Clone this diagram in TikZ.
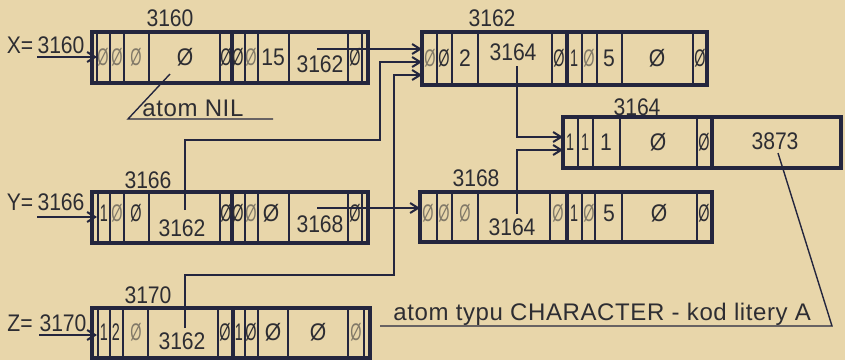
\documentclass[tikz,border=0pt]{standalone}
\usepackage{fontspec}
\setmainfont{Liberation Sans}
\newfontfamily\digitfont[FakeStretch=0.88]{Liberation Sans}
\newfontfamily\flagfont[FakeStretch=0.6]{Liberation Sans}
\newfontfamily\notefont[LetterSpace=2.5]{Liberation Sans}
\usetikzlibrary{arrows.meta}
\definecolor{paper}{RGB}{232,214,170}
\definecolor{ink}{RGB}{36,38,62}
\definecolor{pencil}{RGB}{45,45,50}
\begin{document}
\begin{tikzpicture}[x=0.5pt, y=-0.5pt,
  frame/.style={draw=ink, line width=1.6pt},
  cell/.style={draw=ink, line width=0.55pt},
  link/.style={draw=ink, line width=1pt, -{Straight Barb[length=4pt,width=5pt]}},
  lead/.style={draw=ink, line width=0.7pt},
  val/.style={text=pencil, font=\digitfont\fontsize{12}{14}\selectfont, inner sep=0pt},
  flag/.style={text=pencil, font=\flagfont\fontsize{12}{14}\selectfont, inner sep=0pt},
  faint/.style={text=pencil!55!paper}, dark/.style={},
  note/.style={text=pencil, font=\notefont\fontsize{12}{14}\selectfont, inner sep=0pt}]
  \fill[paper] (0,0) rectangle (845,360);
  % record 3160
  \draw[frame] (92,32) rectangle (368,83);
  \foreach \x in {97,110,124,149,220,245,258,289,348,362} \draw[cell] (\x,32) -- (\x,83);
  \draw[frame] (232,32) -- (232,83);
  \foreach \x/\t/\s [count=\i] in {103/Ø/faint,117/Ø/faint,136/Ø/faint,226/Ø/dark,238/Ø/dark,251/Ø/faint,355/Ø/dark}
    \node[flag,\s] (a\i) at (\x,57) {\t};
  \node[val] (anil) at (185,57) {Ø};
  \node[val] (a15) at (273,57) {15};
  \node[val] (a3162) at (320,64) {3162};
  \node[val] (l3160) at (170,18) {3160};
  % record 3162
  \draw[frame] (422,32) rectangle (707,85);
  \foreach \x in {437,452,478,552,582,597,622,693} \draw[cell] (\x,32) -- (\x,85);
  \draw[frame] (567,32) -- (567,85);
  \foreach \x/\t/\s [count=\i] in {430/Ø/faint,444/Ø/dark,559/Ø/dark,574/1/dark,589/Ø/faint,700/Ø/dark}
    \node[flag,\s] (b\i) at (\x,58) {\t};
  \node[val] (b2) at (465,58) {2};
  \node[val] (b3164) at (513,52) {3164};
  \node[val] (b5) at (609,58) {5};
  \node[val] (bnil) at (657,58) {Ø};
  \node[val] (l3162) at (492,18) {3162};
  % record 3164
  \draw[frame] (563,117) rectangle (841,168);
  \foreach \x in {578,593,620,697} \draw[cell] (\x,117) -- (\x,168);
  \draw[frame] (712,117) -- (712,168);
  \foreach \x/\t [count=\i] in {570/1,585/1,704/Ø} \node[flag] (c\i) at (\x,142) {\t};
  \node[val] (c1b) at (606,142) {1};
  \node[val] (cnil) at (658,142) {Ø};
  \node[val] (c3873) at (775,141) {3873};
  \node[val] (l3164) at (637,107) {3164};
  % record 3166
  \draw[frame] (92,192) rectangle (368,243);
  \foreach \x in {98,110,124,149,220,245,258,289,348,362} \draw[cell] (\x,192) -- (\x,243);
  \draw[frame] (232,192) -- (232,243);
  \foreach \x/\t/\s [count=\i] in {104/1/dark,117/Ø/faint,136/Ø/dark,226/Ø/dark,238/Ø/dark,251/Ø/faint,355/Ø/dark}
    \node[flag,\s] (d\i) at (\x,213) {\t};
  \node[val] (dnil) at (271,213) {Ø};
  \node[val] (d3162) at (182,228) {3162};
  \node[val] (d3168) at (320,224) {3168};
  \node[val] (l3166) at (148,180) {3166};
  % record 3168
  \draw[frame] (420,192) rectangle (712,242);
  \foreach \x in {437,452,478,550,582,595,622,697} \draw[cell] (\x,192) -- (\x,242);
  \draw[frame] (567,192) -- (567,242);
  \foreach \x/\t/\s [count=\i] in {428/Ø/faint,444/Ø/faint,465/Ø/faint,558/Ø/faint,574/1/dark,589/Ø/faint,704/Ø/dark}
    \node[flag,\s] (e\i) at (\x,213) {\t};
  \node[val] (e3164) at (512,227) {3164};
  \node[val] (e5) at (609,213) {5};
  \node[val] (enil) at (659,213) {Ø};
  \node[val] (l3168) at (476,178) {3168};
  % record 3170
  \draw[frame] (92,308) rectangle (370,358);
  \foreach \x in {98,110,123,148,218,245,258,288,348,364} \draw[cell] (\x,308) -- (\x,358);
  \draw[frame] (233,308) -- (233,358);
  \foreach \x/\t/\s [count=\i] in {104/1/dark,116/2/dark,136/Ø/faint,225/Ø/dark,239/1/dark,251/Ø/dark,356/Ø/faint}
    \node[flag,\s] (f\i) at (\x,332) {\t};
  \node[val] (fnil) at (273,332) {Ø};
  \node[val] (fnil2) at (318,332) {Ø};
  \node[val] (f3162) at (182,341) {3162};
  \node[val] (l3170) at (148,295) {3170};
  % variables
  \node[val] (xeq) at (20,45) {X=};
  \node[val] (x3160) at (61,45) {3160};
  \node[val] (yeq) at (20,202) {Y=};
  \node[val] (y3166) at (61,202) {3166};
  \node[val] (zeq) at (20,323) {Z=};
  \node[val] (z3170) at (63,323) {3170};
  \coordinate (xin) at (97,57);  \coordinate (yin) at (97,217); \coordinate (zin) at (97,335);
  \draw[link] (x3160.west |- xin) -- (xin);
  \draw[link] (y3166.west |- yin) -- (yin);
  \draw[link] (z3170.west |- zin) -- (zin);
  % pointers
  \coordinate (aout) at (317,49); \coordinate (bin1) at (422,49);
  \coordinate (dout) at (185,210); \coordinate (dturn) at (380,140); \coordinate (bin2) at (422,62);
  \coordinate (fout) at (185,328); \coordinate (fturn) at (394,275); \coordinate (bin3) at (422,75);
  \coordinate (dout2) at (317,208); \coordinate (ein) at (420,208);
  \coordinate (bout) at (517,66); \coordinate (cin1) at (563,137);
  \coordinate (eout) at (517,214); \coordinate (cin2) at (563,150);
  \draw[link] (aout) -- (bin1);
  \draw[link] (dout) |- (dturn) |- (bin2);
  \draw[link] (fout) |- (fturn) |- (bin3);
  \draw[link] (dout2) -- (ein);
  \draw[link] (bout) |- (cin1);
  \draw[link] (eout) |- (cin2);
  % remarks
  \coordinate (nilfrom) at (170,74); \coordinate (nilbend) at (128,119); \coordinate (nilend) at (273,119);
  \draw[lead] (nilfrom) -- (nilbend) -- (nilend);
  \node[note, anchor=base west] (niltxt) at (142,116) {atom NIL};
  \coordinate (charfrom) at (778,153); \coordinate (charbend) at (832,326); \coordinate (charend) at (380,326);
  \draw[lead] (charfrom) -- (charbend) -- (charend);
  \node[note, anchor=base west] (chartxt) at (393,320) {atom typu CHARACTER - kod litery A};
\end{tikzpicture}
\end{document}
